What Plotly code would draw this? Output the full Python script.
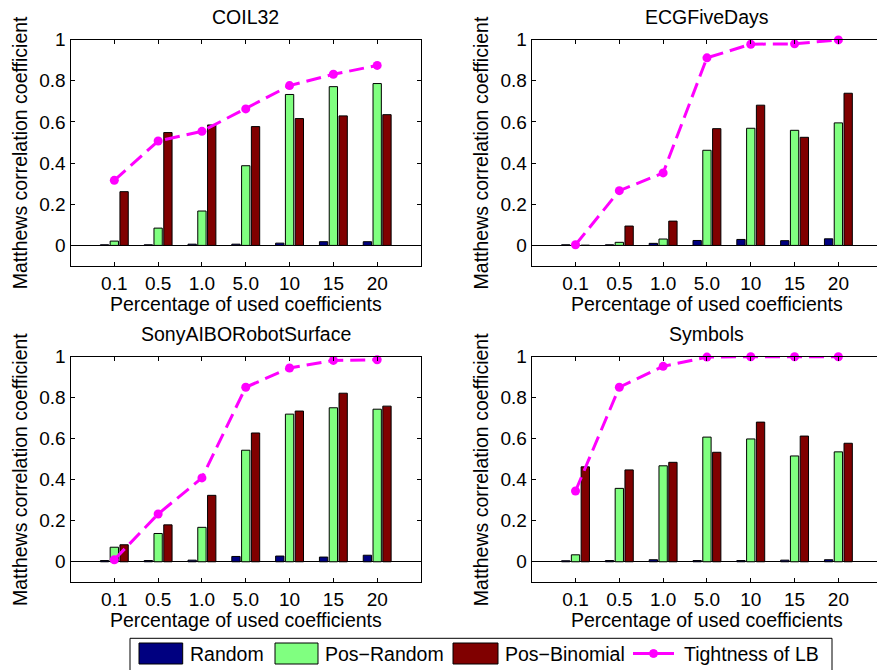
import plotly.graph_objects as go

# ---------------- data ----------------
categories = ["0.1", "0.5", "1.0", "5.0", "10", "15", "20"]
series_names = ["Random", "Pos\u2212Random", "Pos\u2212Binomial", "Tightness of LB"]
titles = ["COIL32", "ECGFiveDays", "SonyAIBORobotSurface", "Symbols"]

coil32_random = [0.003, 0.003, 0.006, 0.006, 0.011, 0.018, 0.018]
coil32_posrandom = [0.021, 0.084, 0.167, 0.387, 0.733, 0.771, 0.786]
coil32_posbinomial = [0.261, 0.548, 0.585, 0.577, 0.616, 0.629, 0.635]
coil32_tightness = [0.316, 0.507, 0.554, 0.663, 0.776, 0.831, 0.874]

ecg_random = [0.003, 0.003, 0.010, 0.024, 0.029, 0.023, 0.032]
ecg_posrandom = [0.002, 0.015, 0.031, 0.462, 0.569, 0.559, 0.595]
ecg_posbinomial = [0.001, 0.094, 0.118, 0.567, 0.681, 0.525, 0.739]
ecg_tightness = [0.003, 0.266, 0.352, 0.911, 0.977, 0.979, 0.998]

sony_random = [0.006, 0.006, 0.008, 0.026, 0.028, 0.023, 0.032]
sony_posrandom = [0.071, 0.138, 0.168, 0.544, 0.720, 0.751, 0.744]
sony_posbinomial = [0.083, 0.180, 0.324, 0.628, 0.735, 0.822, 0.759]
sony_tightness = [0.010, 0.233, 0.409, 0.851, 0.945, 0.982, 0.985]

symbols_random = [0.005, 0.006, 0.010, 0.006, 0.006, 0.008, 0.010]
symbols_posrandom = [0.034, 0.358, 0.468, 0.608, 0.599, 0.516, 0.536]
symbols_posbinomial = [0.463, 0.448, 0.485, 0.534, 0.681, 0.613, 0.578]
symbols_tightness = [0.345, 0.851, 0.953, 0.998, 1.0, 1.0, 1.0]

panels = [
    (coil32_random, coil32_posrandom, coil32_posbinomial, coil32_tightness),
    (ecg_random, ecg_posrandom, ecg_posbinomial, ecg_tightness),
    (sony_random, sony_posrandom, sony_posbinomial, sony_tightness),
    (symbols_random, symbols_posrandom, symbols_posbinomial, symbols_tightness),
]

ytick_vals = [0, 0.2, 0.4, 0.6, 0.8, 1]
ytick_text = ["0", "0.2", "0.4", "0.6", "0.8", "1"]

# ---------------- style ----------------
W, H = 877, 670
FONT = "Liberation Sans, Arial, Helvetica, sans-serif"
bar_colors = ["#000080", "#80FF80", "#800000"]
line_color = "#FF00FF"
TICK_FS = 19
LABEL_FS = 19.5

def px_x(p):
    return p / W

def px_y(p):
    return 1 - p / H

# panel boxes in pixels: (left, right, top, bottom), right column clipped at the edge
unit = 350.5 / 8.0
boxes = [
    (70.5, 421.0, 39.5, 266.0),
    (531.7, 877.0, 39.5, 266.0),
    (70.5, 421.0, 356.7, 582.3),
    (531.7, 877.0, 356.7, 582.3),
]

x_pos = list(range(1, len(categories) + 1))

fig = go.Figure()
layout = dict(
    width=W, height=H, autosize=False,
    margin=dict(l=0, r=0, t=0, b=0, pad=0, autoexpand=False),
    paper_bgcolor="white", plot_bgcolor="white",
    barmode="group", bargap=0.33, bargroupgap=0.15,
    showlegend=False,
    font=dict(family=FONT, color="black", size=TICK_FS),
)

annotations = []
shapes = []

for i, (data, box) in enumerate(zip(panels, boxes)):
    n = i + 1
    xa = "x" if n == 1 else f"x{n}"
    ya = "y" if n == 1 else f"y{n}"
    left, right, top, bottom = box
    xmax = (right - left) / unit
    for k in range(3):
        fig.add_trace(go.Bar(
            x=x_pos, y=data[k], name=series_names[k],
            marker=dict(color=bar_colors[k], line=dict(color="black", width=1)),
            offsetgroup=str(k), xaxis=xa, yaxis=ya,
        ))
    fig.add_trace(go.Scatter(
        x=x_pos, y=data[3], name=series_names[3], mode="lines+markers",
        line=dict(color=line_color, width=3, dash="15px,7px"),
        marker=dict(color=line_color, size=9, symbol="circle"),
        cliponaxis=False, xaxis=xa, yaxis=ya,
    ))
    right_col = (i % 2 == 1)
    layout["xaxis" if n == 1 else f"xaxis{n}"] = dict(
        domain=[px_x(left), px_x(right)], range=[0, xmax],
        tickvals=x_pos, ticktext=categories,
        ticks="inside", ticklen=4, tickcolor="black", tickwidth=1,
        showline=True, linecolor="black", linewidth=1, mirror="ticks",
        showgrid=False, zeroline=False, anchor=ya, automargin=False,
        tickfont=dict(size=TICK_FS, family=FONT, color="black"),
        fixedrange=True,
    )
    layout["yaxis" if n == 1 else f"yaxis{n}"] = dict(
        domain=[px_y(bottom), px_y(top)], range=[-0.1, 1],
        tickvals=ytick_vals, ticktext=ytick_text,
        ticks="inside", ticklen=4, tickcolor="black", tickwidth=1,
        showline=True, linecolor="black", linewidth=1,
        mirror=False if right_col else "ticks",
        showgrid=False, zeroline=True, zerolinecolor="black", zerolinewidth=1,
        anchor=xa, automargin=False,
        tickfont=dict(size=TICK_FS, family=FONT, color="black"),
        fixedrange=True,
    )
    full_center = left + 4 * unit
    # subplot title
    annotations.append(dict(
        text=titles[i], xref="paper", yref="paper",
        x=px_x(full_center), y=px_y(top - 22.5), xanchor="center", yanchor="middle",
        showarrow=False, font=dict(size=LABEL_FS, family=FONT, color="black"),
    ))
    # x title
    annotations.append(dict(
        text="Percentage of used coefficients", xref="paper", yref="paper",
        x=px_x(full_center), y=px_y(bottom + 38), xanchor="center", yanchor="middle",
        showarrow=False, font=dict(size=LABEL_FS, family=FONT, color="black"),
    ))
    # y title
    annotations.append(dict(
        text="Matthews correlation coefficient", xref="paper", yref="paper",
        x=px_x(left - 51), y=px_y((top + bottom) / 2), xanchor="center", yanchor="middle",
        textangle=-90, showarrow=False,
        font=dict(size=LABEL_FS, family=FONT, color="black"),
    ))

# ---------------- legend (drawn) ----------------
shapes.append(dict(type="rect", xref="paper", yref="paper",
                   x0=px_x(130), x1=px_x(832), y0=px_y(672), y1=px_y(638.3),
                   line=dict(color="black", width=1), fillcolor="white", layer="above"))
patches = [(139, 182.7), (275, 318), (453, 498)]
for (a, b), c in zip(patches, bar_colors):
    shapes.append(dict(type="rect", xref="paper", yref="paper",
                       x0=px_x(a), x1=px_x(b), y0=px_y(664), y1=px_y(643),
                       line=dict(color="black", width=1), fillcolor=c, layer="above"))
shapes.append(dict(type="line", xref="paper", yref="paper",
                   x0=px_x(633), x1=px_x(674), y0=px_y(653.5), y1=px_y(653.5),
                   line=dict(color=line_color, width=3), layer="above"))
shapes.append(dict(type="circle", xref="paper", yref="paper",
                   x0=px_x(649.5), x1=px_x(657.5), y0=px_y(657.5), y1=px_y(649.5),
                   line=dict(color=line_color, width=1), fillcolor=line_color, layer="above"))
legend_text_x = [188, 323, 503, 682]
for name, tx in zip(series_names, legend_text_x):
    annotations.append(dict(
        text=name, xref="paper", yref="paper", x=px_x(tx), y=px_y(654),
        xanchor="left", yanchor="middle", showarrow=False,
        font=dict(size=LABEL_FS, family=FONT, color="black"),
    ))

layout["annotations"] = annotations
layout["shapes"] = shapes
fig.update_layout(**layout)

fig.write_html("out.html")
